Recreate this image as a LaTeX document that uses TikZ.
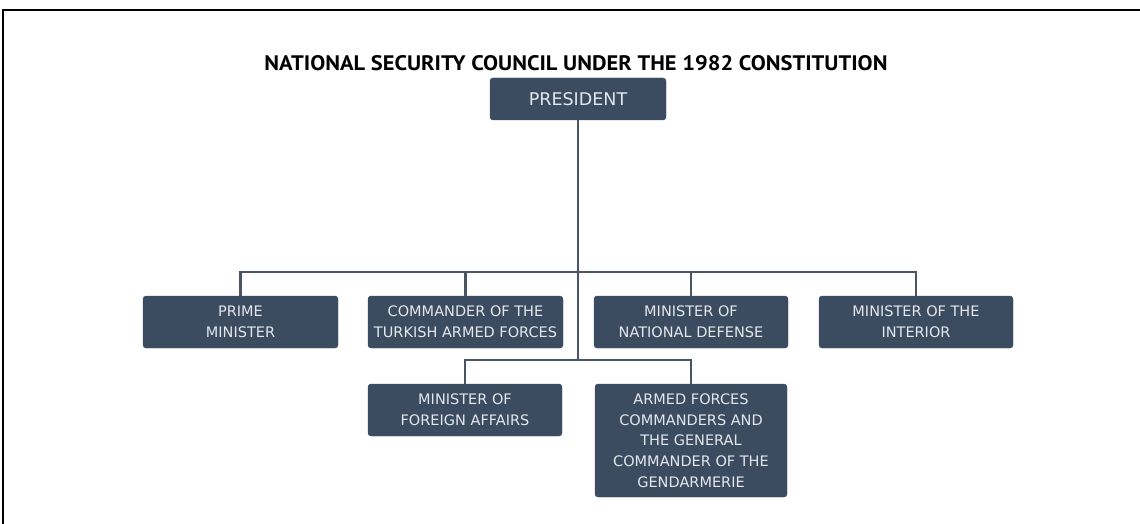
\documentclass[tikz,border=0pt]{standalone}
\usepackage{fontspec}
\setmainfont{PT Sans}
\newfontfamily\boxfont{DejaVu Sans}
\definecolor{boxfill}{HTML}{3B4C60}
\definecolor{linec}{HTML}{4A5562}
\definecolor{boxtext}{HTML}{E3E7EC}
\begin{document}
\begin{tikzpicture}[x=1pt,y=-1pt,
  orgbox/.style={draw=boxfill,fill=boxfill,rounded corners=3pt,text=boxtext,
    font=\boxfont\fontsize{14.5}{21}\selectfont,align=center,inner sep=0pt},
  conn/.style={draw=linec,line width=2.2pt}]
\useasboundingbox (0,0) rectangle (1140,524);
\draw[line width=2pt,black] (3,524) -- (3,10) -- (1140,10);
\node[font=\bfseries\fontsize{21}{23}\selectfont] (title) at (576,63) {\scalebox{1.07}[1]{NATIONAL SECURITY COUNCIL UNDER THE 1982 CONSTITUTION}};
\node[orgbox,minimum width=176pt,minimum height=42pt,font=\boxfont\fontsize{17.5}{21}\selectfont] (pres) at (578,99) {PRESIDENT};
\node[orgbox,minimum width=195pt,minimum height=52pt] (pm) at (240.5,322) {PRIME\\MINISTER};
\node[orgbox,minimum width=195pt,minimum height=52pt] (cmd) at (465.5,322) {COMMANDER OF THE\\TURKISH ARMED FORCES};
\node[orgbox,minimum width=194pt,minimum height=52pt] (def) at (691,322) {MINISTER OF\\NATIONAL DEFENSE};
\node[orgbox,minimum width=194pt,minimum height=52pt] (int) at (916,322) {MINISTER OF THE\\INTERIOR};
\node[orgbox,minimum width=194pt,minimum height=52pt] (fa) at (465,410) {MINISTER OF\\FOREIGN AFFAIRS};
\node[orgbox,minimum width=192pt,minimum height=113pt,font=\boxfont\fontsize{14.5}{20.7}\selectfont] (af) at (691,440.5) {ARMED FORCES\\COMMANDERS AND\\THE GENERAL\\COMMANDER OF THE\\GENDARMERIE};
\coordinate (b1) at (578,272);
\coordinate (b2) at (578,360);
\path[conn] (pres.south) -- (b2);
\path[conn] (pm.north) |- (b1) -| (int.north);
\path[conn] (cmd.north) -- (cmd.north |- b1);
\path[conn] (def.north) -- (def.north |- b1);
\path[conn] (fa.north) |- (b2) -| (af.north);
\end{tikzpicture}
\end{document}
